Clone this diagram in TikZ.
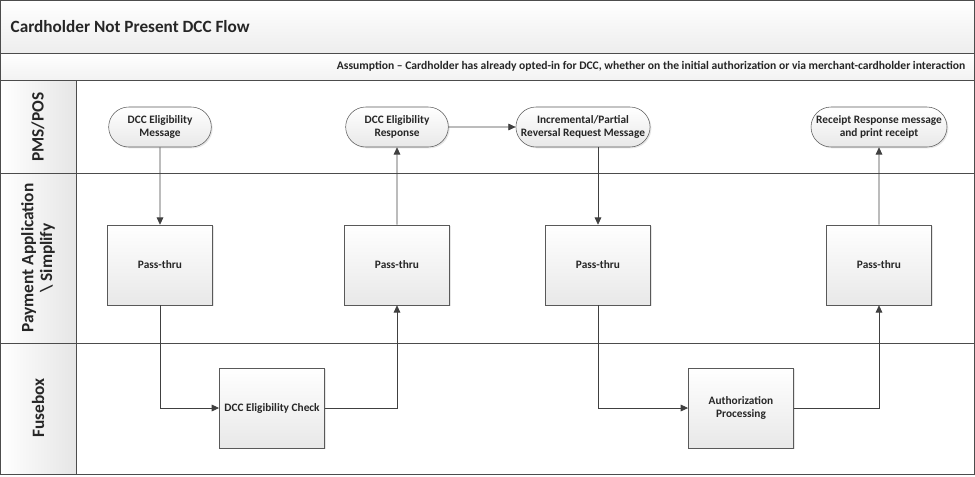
\documentclass[tikz,border=0pt]{standalone}
\usepackage{fontspec}
\setmainfont{Carlito}
\usetikzlibrary{arrows.meta,positioning,calc,shapes.misc,shadows}

\begin{document}
\begin{tikzpicture}[x=0.75pt,y=-0.75pt,
  every node/.style={font=\bfseries\fontsize{8.5}{10}\selectfont,text=black!85},
  frame/.style={draw=black!70,line width=0.7pt},
  lanelbl/.style={rotate=90,align=center,font=\bfseries\fontsize{13}{14}\selectfont},
  term/.style={rounded rectangle,draw=black!65,minimum width=79pt,minimum height=30pt,
    inner sep=1pt,align=center,top color=white,bottom color=black!9,
    drop shadow={opacity=0.2,shadow xshift=1pt,shadow yshift=-1pt}},
  proc/.style={rectangle,draw=black!65,minimum width=79pt,minimum height=60pt,
    inner sep=1pt,align=center,top color=white,bottom color=black!9,
    drop shadow={opacity=0.2,shadow xshift=1pt,shadow yshift=-1pt}},
  arr/.style={-{Triangle[length=5.5pt,width=5pt]},draw=black!75,line width=0.6pt}
]
\useasboundingbox (0,0) rectangle (975,476);
% header bands
\draw[frame,top color=white,bottom color=black!7] (0.5,0.5) rectangle (974,53);
\draw[frame,top color=white,bottom color=black!5] (0.5,53) rectangle (974,80);
\node[anchor=west,font=\bfseries\fontsize{12.9}{15}\selectfont] (title) at (6,27) {Cardholder Not Present DCC Flow};
\node[anchor=east,font=\bfseries\fontsize{8.7}{10}\selectfont] (note) at (970,66.5)
  {Assumption – Cardholder has already opted-in for DCC, whether on the initial authorization or via merchant-cardholder interaction};
% lanes
\draw[frame] (0.5,80) rectangle (974,173);
\draw[frame] (0.5,173) rectangle (974,343);
\draw[frame] (0.5,343) rectangle (974,474);
\draw[frame,left color=white,right color=black!10] (0.5,80) rectangle (76,474);
\draw[frame] (0.5,173) -- (76,173) (0.5,343) -- (76,343);
\node[lanelbl] (lane1) at (38,127) {PMS/POS};
\node[lanelbl] (lane2) at (38,258) {Payment Application\\ \textbackslash\ Simplify};
\node[lanelbl] (lane3) at (38,408) {Fusebox};

% PMS/POS
\node[term] (msg) at (160,127) {DCC Eligibility\\Message};
\node[term] (resp) at (397,127) {DCC Eligibility\\Response};
\node[term,minimum width=87pt] (inc) at (583,127) {Incremental/Partial\\Reversal Request Message};
\node[term,minimum width=104pt] (rcpt) at (879,127) {Receipt Response message\\and print receipt};
% Payment application
\node[proc] (p1) at (160,265) {Pass-thru};
\node[proc] (p2) at (397,265) {Pass-thru};
\node[proc] (p3) at (598,265) {Pass-thru};
\node[proc] (p4) at (879,265) {Pass-thru};
% Fusebox
\node[proc] (chk) at (272,408) {DCC Eligibility Check};
\node[proc] (auth) at (741,408) {Authorization\\Processing};

\draw[arr] (msg) -- (p1);
\draw[arr] (p1.south) |- (chk.west);
\draw[arr] (chk.east) -| (p2.south);
\draw[arr] (p2) -- (resp);
\draw[arr] (resp) -- (inc);
\draw[arr] (inc.south -| p3.north) -- (p3.north);
\draw[arr] (p3.south) |- (auth.west);
\draw[arr] (auth.east) -| (p4.south);
\draw[arr] (p4) -- (rcpt);
\end{tikzpicture}
\end{document}
